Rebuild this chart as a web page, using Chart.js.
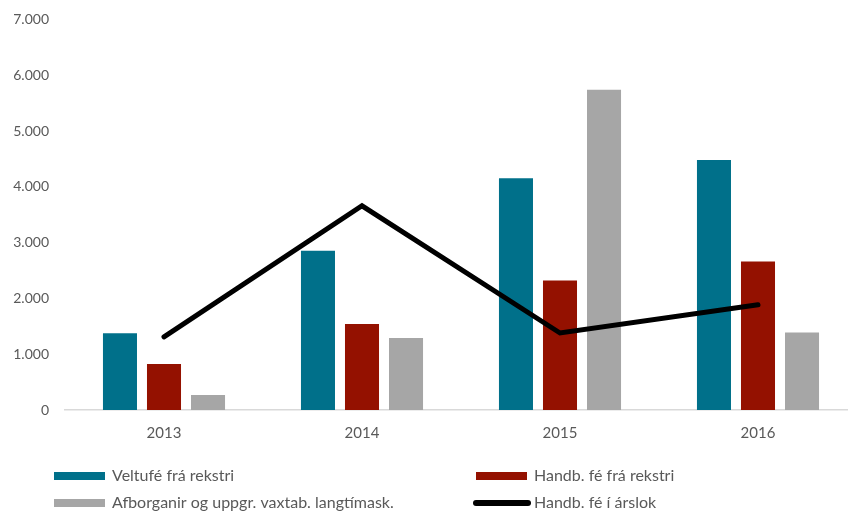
<!DOCTYPE html>
<html>
<head>
<meta charset="utf-8">
<script src="https://cdn.jsdelivr.net/npm/chart.js@4"></script>
<style>
  html, body { margin: 0; padding: 0; background: #fff; overflow: hidden; }
  #wrap { width: 870px; height: 511px; position: relative; }
</style>
</head>
<body>
<div id="wrap"><canvas id="chart"></canvas></div>
<script>
// ================= DATA =================
const years = ["2013", "2014", "2015", "2016"];
const veltufe = [1375, 2855, 4155, 4480];
const handbFe = [825, 1540, 2320, 2660];
const afborganir = [270, 1290, 5740, 1390];
const handbArslok = [1310, 3660, 1380, 1885];
const yTicks = [0, 1000, 2000, 3000, 4000, 5000, 6000, 7000];

const TEXT = "#595959";
const FONT = "Lato, 'Noto Sans', sans-serif";

function fmt(v) {
  return String(v).replace(/\B(?=(\d{3})+(?!\d))/g, ".");
}

// ================= LEGEND (two fixed columns, like the original) =================
const legendPlugin = {
  id: "twoColLegend",
  afterDraw(chart) {
    const ctx = chart.ctx;
    const slots = [
      { ds: 0, x: 54, y: 476 },
      { ds: 1, x: 476, y: 476 },
      { ds: 2, x: 54, y: 503 },
      { ds: 3, x: 476, y: 503 }
    ];
    ctx.save();
    ctx.font = "16px " + FONT;
    ctx.textBaseline = "middle";
    slots.forEach(s => {
      const d = chart.data.datasets[s.ds];
      if (d.type === "line") {
        ctx.strokeStyle = d.borderColor;
        ctx.lineWidth = 6;
        ctx.lineCap = "round";
        ctx.beginPath();
        ctx.moveTo(s.x, s.y);
        ctx.lineTo(s.x + 52, s.y);
        ctx.stroke();
      } else {
        ctx.fillStyle = d.backgroundColor;
        ctx.fillRect(s.x, s.y - 4, 51, 8);
      }
      ctx.fillStyle = TEXT;
      ctx.fillText(d.label, s.x + 58, s.y);
    });
    ctx.restore();
  }
};

// ================= CHART =================
const ctx = document.getElementById("chart").getContext("2d");
new Chart(ctx, {
  type: "bar",
  data: {
    labels: years,
    datasets: [
      { label: "Veltufé frá rekstri", data: veltufe, backgroundColor: "#00708a", order: 1 },
      { label: "Handb. fé frá rekstri", data: handbFe, backgroundColor: "#941100", order: 1 },
      { label: "Afborganir og uppgr. vaxtab. langtímask.", data: afborganir, backgroundColor: "#a6a6a6", order: 1 },
      {
        label: "Handb. fé í árslok",
        type: "line",
        data: handbArslok,
        borderColor: "#000000",
        backgroundColor: "#000000",
        borderWidth: 5,
        borderCapStyle: "round",
        pointRadius: 0,
        tension: 0,
        fill: false,
        order: 0
      }
    ]
  },
  options: {
    responsive: true,
    maintainAspectRatio: false,
    animation: false,
    layout: { padding: { left: 0, right: 13, top: 10, bottom: 0 } },
    datasets: { bar: { categoryPercentage: 0.667, barPercentage: 0.773 } },
    plugins: {
      legend: { display: false },
      tooltip: { enabled: false }
    },
    scales: {
      x: {
        grid: { display: false, drawTicks: false },
        border: { display: true, color: "#d9d9d9", width: 1.5 },
        ticks: { color: TEXT, font: { family: FONT, size: 15 }, padding: 14 },
        afterFit: s => { s.height = 101; }
      },
      y: {
        min: 0,
        max: 7000,
        afterBuildTicks: s => { s.ticks = yTicks.map(v => ({ value: v })); },
        grid: { display: false, drawTicks: true, tickLength: 5 },
        border: { display: false },
        ticks: { color: TEXT, font: { family: FONT, size: 14 }, padding: 11, callback: v => fmt(v) },
        afterFit: s => { s.width = 65; }
      }
    }
  },
  plugins: [legendPlugin]
});
</script>
</body>
</html>
